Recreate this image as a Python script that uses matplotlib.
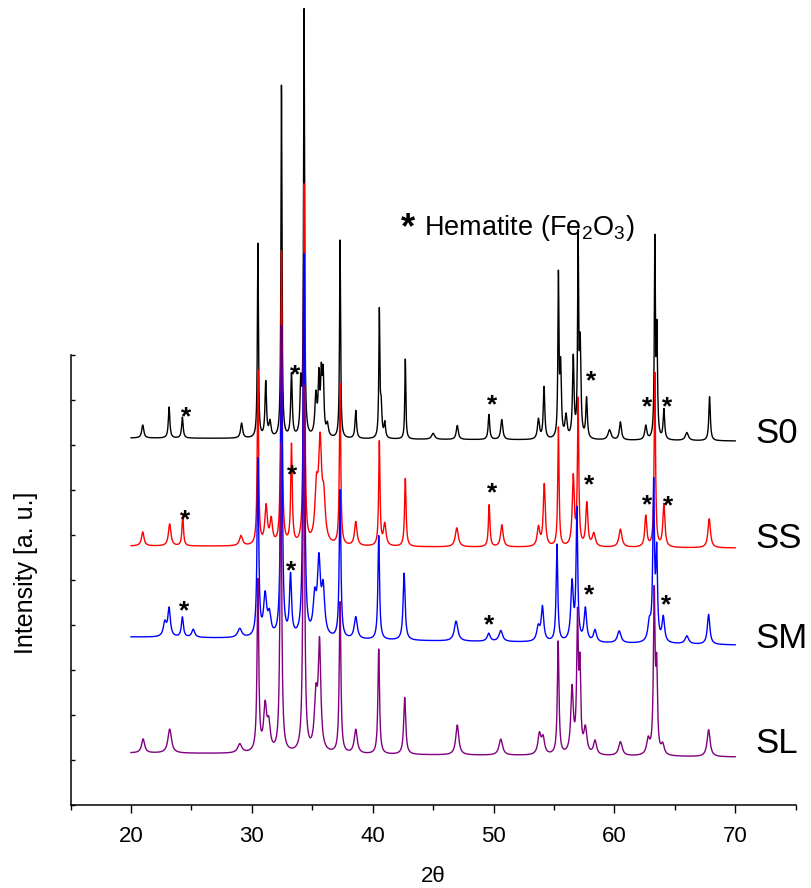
import numpy as np
import matplotlib
matplotlib.use('Agg')
import matplotlib.pyplot as plt

plt.rcParams['font.family'] = ['Liberation Sans', 'DejaVu Sans']
plt.rcParams['mathtext.fontset'] = 'custom'
plt.rcParams['mathtext.rm'] = 'Liberation Sans'

# Reflections per sample: 2theta position, peak intensity (a.u.), FWHM (deg)
s0_pos = [20.97, 23.15, 24.25, 29.15, 30.5, 31.15, 31.5, 32.45, 33.28, 34.05, 34.32,
          35.3, 35.55, 35.75, 35.9, 36.25, 37.3, 38.6, 40.55, 40.7, 41.0, 42.7, 45.0,
          47.0, 49.62, 50.68, 53.72, 54.18, 55.37, 55.55, 56.0, 56.6, 57.0, 57.17,
          57.7, 59.6, 60.5, 62.6, 63.35, 63.52, 64.1, 66.0, 67.88]
s0_int = [13, 31, 21, 15, 194, 55, 15, 352, 63, 50, 425,
          40, 55, 55, 58, 12, 198, 28, 125, 30, 15, 80, 6,
          14, 25, 20, 20, 52, 158, 70, 22, 80, 192, 90,
          40, 10, 18, 14, 194, 105, 30, 8, 44]
s0_fw = [0.2, 0.15, 0.15, 0.2, 0.1, 0.15, 0.2, 0.1, 0.15, 0.15, 0.1,
         0.2, 0.15, 0.15, 0.15, 0.2, 0.1, 0.15, 0.1, 0.15, 0.15, 0.1, 0.3,
         0.2, 0.15, 0.2, 0.2, 0.15, 0.1, 0.15, 0.2, 0.15, 0.1, 0.15,
         0.15, 0.3, 0.2, 0.2, 0.1, 0.12, 0.15, 0.3, 0.15]

ss_pos = [20.97, 23.2, 24.28, 29.1, 30.5, 31.18, 31.6, 32.45, 33.28, 34.32, 35.35,
          35.65, 35.95, 37.3, 38.6, 40.55, 41.0, 42.7, 46.96, 49.64, 50.69, 53.72,
          54.2, 55.37, 56.6, 57.0, 57.72, 58.3, 60.5, 62.6, 63.35, 64.1, 67.85]
ss_int = [14, 22, 30, 10, 174, 38, 24, 293, 99, 359, 50,
          95, 40, 161, 24, 104, 22, 68, 19, 42, 22, 19,
          62, 119, 69, 145, 43, 13, 18, 31, 174, 43, 29]
ss_fw = [0.25, 0.25, 0.15, 0.3, 0.13, 0.25, 0.25, 0.13, 0.15, 0.13, 0.3,
         0.3, 0.3, 0.13, 0.25, 0.13, 0.25, 0.15, 0.3, 0.15, 0.25, 0.25,
         0.2, 0.13, 0.2, 0.13, 0.2, 0.3, 0.3, 0.2, 0.13, 0.2, 0.25]

sm_pos = [22.8, 23.15, 24.25, 25.15, 29.0, 30.5, 31.1, 31.45, 32.45, 33.2, 34.3,
          35.2, 35.55, 35.9, 37.3, 38.6, 40.5, 42.6, 46.9, 49.6, 50.6, 53.7,
          54.05, 55.25, 56.5, 56.9, 57.6, 58.4, 60.4, 62.9, 63.25, 63.5, 64.05,
          66.0, 67.8]
sm_int = [14, 28, 20, 8, 9, 177, 40, 20, 310, 60, 382,
          35, 72, 45, 148, 22, 104, 67, 20, 8, 11, 14,
          34, 97, 58, 130, 33, 12, 12, 18, 155, 85, 25,
          8, 30]
sm_fw = [0.3, 0.25, 0.2, 0.3, 0.4, 0.16, 0.3, 0.3, 0.16, 0.2, 0.16,
         0.3, 0.3, 0.3, 0.16, 0.3, 0.16, 0.2, 0.35, 0.3, 0.35, 0.3,
         0.25, 0.16, 0.25, 0.16, 0.25, 0.3, 0.35, 0.3, 0.16, 0.16, 0.25,
         0.35, 0.25]

sl_pos = [21.0, 23.2, 29.0, 30.5, 31.1, 31.4, 32.4, 34.3, 35.3, 35.6, 37.3,
          38.6, 40.5, 42.65, 47.0, 50.6, 53.8, 54.1, 55.35, 56.5, 56.95, 57.15,
          57.6, 58.4, 60.5, 62.8, 63.3, 63.5, 64.0, 67.8]
sl_int = [14, 24, 9, 171, 44, 25, 308, 366, 52, 105, 151,
          24, 105, 57, 30, 16, 20, 16, 113, 65, 131, 80,
          25, 14, 14, 15, 158, 80, 10, 27]
sl_fw = [0.3, 0.35, 0.4, 0.16, 0.3, 0.3, 0.16, 0.16, 0.3, 0.25, 0.16,
         0.3, 0.16, 0.2, 0.3, 0.35, 0.3, 0.3, 0.16, 0.25, 0.16, 0.16,
         0.3, 0.3, 0.35, 0.3, 0.16, 0.16, 0.3, 0.3]

# vertical offsets of each pattern (start, end of scan)
offsets = {'S0': (367, 364), 'SS': (259, 257), 'SM': (168, 160), 'SL': (52, 48)}
colors = {'S0': 'black', 'SS': '#ff0000', 'SM': '#0000ff', 'SL': '#800080'}
label_y = {'S0': 362, 'SS': 257, 'SM': 157, 'SL': 52}

# hematite reflections marked with an asterisk (2theta, height)
s0_hem = [(24.55, 396), (33.58, 438), (49.86, 408), (58.05, 432), (62.69, 406), (64.35, 406)]
ss_hem = [(24.47, 293), (33.33, 338), (49.86, 320), (57.94, 328), (62.69, 308), (64.48, 307)]
sm_hem = [(24.41, 202), (33.22, 242), (49.64, 188), (57.94, 218), (64.26, 208)]

two_theta = np.arange(20, 70.0001, 0.01)


def pattern(pos, inten, fwhm, base):
    y = np.linspace(base[0], base[1], len(two_theta))
    for p, h, w in zip(pos, inten, fwhm):
        g = (two_theta - p) / (w / 2)
        y = y + h / (1 + g ** 2)
    return y


fig = plt.figure(figsize=(8.11, 8.88), dpi=100)
ax = fig.add_axes([70.6 / 811, 83 / 888, 725 / 811, 450 / 888])

samples = [('S0', s0_pos, s0_int, s0_fw), ('SS', ss_pos, ss_int, ss_fw),
           ('SM', sm_pos, sm_int, sm_fw), ('SL', sl_pos, sl_int, sl_fw)]
for name, pos, inten, fw in samples:
    ax.plot(two_theta, pattern(pos, inten, fw, offsets[name]),
            color=colors[name], lw=1.0, clip_on=False)
    ax.text(71.66, label_y[name], name, fontsize=25, va='baseline', ha='left')

for marks in (s0_hem, ss_hem, sm_hem):
    for x, y in marks:
        ax.annotate('*', (x, y), xytext=(0, -11), textcoords='offset points',
                    ha='center', va='baseline', fontsize=19, fontweight='bold')

ax.set_xlim(15, 75)
ax.set_ylim(0, 450)
ax.set_xticks(np.arange(20, 71, 10))
ax.set_xticks(np.arange(15, 76, 10), minor=True)
ax.set_yticks(np.arange(0, 451, 45))
ax.set_yticklabels([])
ax.tick_params(axis='x', which='major', direction='out', length=6, width=1,
               labelsize=16, pad=9)
ax.tick_params(axis='x', which='minor', direction='out', length=3.5, width=1)
ax.tick_params(axis='y', direction='in', length=3, width=1)
for side in ('top', 'right'):
    ax.spines[side].set_visible(False)
for side in ('left', 'bottom'):
    ax.spines[side].set_linewidth(1.1)

ax.set_xlabel('2\u03b8', fontsize=16)
ax.xaxis.set_label_coords(0.5, -0.135)
ax.set_ylabel('Intensity [a. u.]', fontsize=18)
ax.yaxis.set_label_coords(-0.045, 0.516)

fig.text(401 / 811, 1 - 238 / 888, '*', fontsize=26, fontweight='bold', ha='left', va='baseline')
fig.text(424 / 811, 1 - 235 / 888, 'Hematite (Fe$_\\mathregular{2}$O$_\\mathregular{3}$)',
         fontsize=19.5, ha='left', va='baseline')

fig.savefig('out.png', dpi=100)
